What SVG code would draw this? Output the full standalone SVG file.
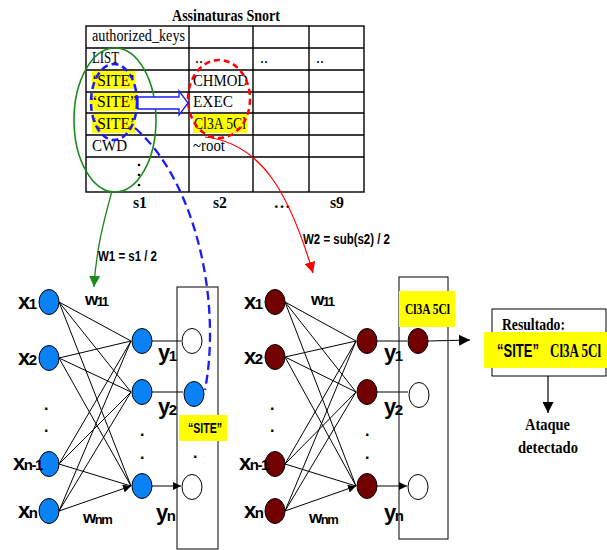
<svg xmlns="http://www.w3.org/2000/svg" width="607" height="550" viewBox="0 0 607 550">
<style>
.tl{stroke:#000;stroke-width:1.4;fill:none}
.ser{font-family:"Liberation Serif",serif;font-size:16px;fill:#000}
.serb{font-family:"Liberation Serif",serif;font-weight:bold;fill:#000}
.sb{font-family:"Liberation Sans",Arial,sans-serif;font-weight:bold;fill:#000}
.lab{font-family:"Liberation Sans",Arial,sans-serif;font-weight:bold;font-size:22px;fill:#000;letter-spacing:-1.5px}
.wl{font-family:"Liberation Sans",Arial,sans-serif;font-weight:bold;font-size:17px;fill:#000;letter-spacing:-1.5px}
.hl{fill:#ffff00}
.bn{fill:#0a82f5;stroke:#000;stroke-width:1}
.rn{fill:#730000;stroke:#000;stroke-width:1}
.wn{fill:#fff;stroke:#000;stroke-width:1}
.cn{stroke:#000;stroke-width:1;fill:none;marker-end:url(#ah)}
.dot{font-family:"Liberation Sans",Arial,sans-serif;font-weight:bold;font-size:16px;fill:#000}
</style>
<defs>
<marker id="ah" viewBox="0 0 8 8" refX="8" refY="4" markerWidth="8" markerHeight="8" markerUnits="userSpaceOnUse" orient="auto"><path d="M0,0 L8,4 L0,8 z" fill="#000"/></marker>
<marker id="ahb" viewBox="0 0 10 10" refX="10" refY="5" markerWidth="11" markerHeight="11" markerUnits="userSpaceOnUse" orient="auto"><path d="M0,0 L10,5 L0,10 z" fill="#000"/></marker>
<marker id="ahg" viewBox="0 0 10 10" refX="10" refY="5" markerWidth="11" markerHeight="11" markerUnits="userSpaceOnUse" orient="auto"><path d="M0,0 L10,5 L0,10 z" fill="#1a8a1a"/></marker>
<marker id="ahr" viewBox="0 0 10 10" refX="10" refY="5" markerWidth="11" markerHeight="11" markerUnits="userSpaceOnUse" orient="auto"><path d="M0,0 L10,5 L0,10 z" fill="#ff0000"/></marker>
</defs>
<rect width="607" height="550" fill="#fff"/>

<g id="table">
<text class="serb" x="172" y="21" font-size="16" textLength="108" lengthAdjust="spacingAndGlyphs">Assinaturas Snort</text>
<rect class="hl" x="92" y="71" width="43" height="18"/>
<rect class="hl" x="90" y="93" width="47" height="18"/>
<rect class="hl" x="92" y="114" width="43" height="19"/>
<rect class="hl" x="193" y="114" width="54" height="19"/>
<rect class="tl" x="86" y="26" width="278" height="166"/>
<path class="tl" d="M189,26V192M253,26V192M309,26V192M86,48H364M86,70H364M86,92H364M86,113H364M86,135H364M86,157H364"/>
<text class="ser" x="92" y="41" textLength="93" lengthAdjust="spacingAndGlyphs">authorized_keys</text>
<text class="ser" x="92" y="63" textLength="27" lengthAdjust="spacingAndGlyphs">LIST</text>
<text class="ser" x="195" y="63">..</text>
<text class="ser" x="260" y="63">..</text>
<text class="ser" x="316" y="63">..</text>
<text class="ser" x="92" y="86" textLength="43" lengthAdjust="spacingAndGlyphs">‘SITE’</text>
<text class="ser" x="90" y="107" textLength="47" lengthAdjust="spacingAndGlyphs">“SITE”</text>
<text class="ser" x="92" y="129" textLength="43" lengthAdjust="spacingAndGlyphs">‘SITE’</text>
<text class="ser" x="193" y="86" textLength="55" lengthAdjust="spacingAndGlyphs">CHMOD</text>
<text class="ser" x="193" y="107" textLength="40" lengthAdjust="spacingAndGlyphs">EXEC</text>
<text class="ser" x="194" y="129" textLength="52" lengthAdjust="spacingAndGlyphs">Cl3A 5Cl</text>
<text class="ser" x="92" y="151" textLength="35" lengthAdjust="spacingAndGlyphs">CWD</text>
<text class="ser" x="193" y="151" textLength="32" lengthAdjust="spacingAndGlyphs">~root</text>
<circle cx="139" cy="165" r="1.3"/><circle cx="139" cy="175" r="1.3"/><circle cx="139" cy="185" r="1.3"/>
<text class="serb" font-size="17" x="133" y="208" textLength="14" lengthAdjust="spacingAndGlyphs">s1</text>
<text class="serb" font-size="17" x="213" y="208" textLength="14" lengthAdjust="spacingAndGlyphs">s2</text>
<text class="serb" font-size="17" x="282" y="208" text-anchor="middle">…</text>
<text class="serb" font-size="17" x="330" y="208" textLength="14" lengthAdjust="spacingAndGlyphs">s9</text>
</g>

<g id="ellipses">
<ellipse cx="115" cy="120" rx="41" ry="72" fill="none" stroke="#1a8a1a" stroke-width="1.6"/>
<ellipse cx="114" cy="102" rx="23" ry="38" fill="none" stroke="#1a1aff" stroke-width="2.5" stroke-dasharray="7,4"/>
<ellipse cx="219" cy="99" rx="31" ry="39" fill="none" stroke="#ff0000" stroke-width="2.5" stroke-dasharray="6,4"/>
<polygon points="138,97 179,97 179,91 188,103 179,115 179,109 138,109" fill="#fff" stroke="#1a1aff" stroke-width="1.3"/>
</g>

<g id="connectors">
<path d="M112,191 C104,220 96,250 94,287" fill="none" stroke="#1a8a1a" stroke-width="1.3" marker-end="url(#ahg)"/>
<path d="M135,128 C195,180 222,300 205,390" fill="none" stroke="#1a1aff" stroke-width="2.3" stroke-dasharray="9,5"/>
<path d="M205,137 C262,143 290,195 313,273" fill="none" stroke="#ff0000" stroke-width="1.2" marker-end="url(#ahr)"/>
<text class="sb" font-size="14" x="98" y="261" textLength="59" lengthAdjust="spacingAndGlyphs">W1 = s1 / 2</text>
<text class="sb" font-size="14" x="303" y="244" textLength="87" lengthAdjust="spacingAndGlyphs">W2 = sub(s2) / 2</text>

<path class="cn" d="M59,302L131,341M59,302L131,392M59,302L131,486M59,358L131,341M59,358L131,392M59,358L131,486M59,464L131,341M59,464L131,392M59,464L131,486M59,511L131,341M59,511L131,392M59,511L131,486"/>
<path class="cn" d="M152,341H181M152,392H183M152,486H181"/>
<path class="cn" d="M285,302L356,341M285,302L356,392M285,302L356,486M285,357L356,341M285,357L356,392M285,357L356,486M285,464L356,341M285,464L356,392M285,464L356,486M285,511L356,341M285,511L356,392M285,511L356,486"/>
<path class="cn" d="M377,341H407M377,392H408M377,486H407"/>
<path d="M428,341L470,340" stroke="#000" stroke-width="1.2" fill="none" marker-end="url(#ahb)"/>
<path d="M548,376V413" stroke="#000" stroke-width="1.2" fill="none" marker-end="url(#ahb)"/>
</g>

<g id="left-net">
<rect x="177" y="287" width="41" height="262" fill="none" stroke="#000" stroke-width="1"/>
<ellipse class="bn" cx="49" cy="302" rx="10" ry="12.5"/>
<ellipse class="bn" cx="49" cy="358" rx="10" ry="12.5"/>
<ellipse class="bn" cx="49" cy="464" rx="10" ry="12.5"/>
<ellipse class="bn" cx="49" cy="511" rx="10" ry="12.5"/>
<ellipse class="bn" cx="142" cy="341" rx="10" ry="12.5"/>
<ellipse class="bn" cx="142" cy="392" rx="10" ry="12.5"/>
<ellipse class="bn" cx="142" cy="486" rx="10" ry="12.5"/>
<ellipse class="wn" cx="192" cy="341" rx="10" ry="12.5"/>
<ellipse class="bn" cx="194" cy="394" rx="10" ry="12.5"/>
<ellipse class="wn" cx="192" cy="487" rx="10" ry="12.5"/>
<text class="lab" x="18" y="309">x<tspan font-size="15">1</tspan></text>
<text class="lab" x="18" y="365">x<tspan font-size="15">2</tspan></text>
<text class="lab" x="13" y="470">x<tspan font-size="15">n-1</tspan></text>
<text class="lab" x="18" y="518">x<tspan font-size="15">n</tspan></text>
<text class="dot" x="44" y="410">.</text><text class="dot" x="44" y="432">.</text>
<text class="dot" x="140" y="436">.</text><text class="dot" x="140" y="459">.</text>
<text class="dot" x="193" y="458">.</text>
<text class="wl" x="85" y="305">w<tspan font-size="13" dy="1">11</tspan></text>
<text class="wl" x="83" y="523">w<tspan font-size="13" dy="1">nm</tspan></text>
<text class="lab" x="158" y="360">y<tspan font-size="15" dy="1">1</tspan></text>
<text class="lab" x="158" y="414">y<tspan font-size="15" dy="1">2</tspan></text>
<text class="lab" x="156" y="520">y<tspan font-size="15" dy="1">n</tspan></text>
<rect class="hl" x="179" y="415" width="48" height="26"/>
<text class="sb" font-size="15" x="188" y="433" textLength="34" lengthAdjust="spacingAndGlyphs">“SITE”</text>
</g>

<g id="right-net">
<rect x="399" y="277" width="49" height="262" fill="none" stroke="#000" stroke-width="1"/>
<rect class="hl" x="399" y="291" width="56" height="36"/>
<text class="serb" font-size="14" x="405" y="314" textLength="45" lengthAdjust="spacingAndGlyphs">Cl3A 5Cl</text>
<ellipse class="rn" cx="275" cy="302" rx="10" ry="12.5"/>
<ellipse class="rn" cx="275" cy="357" rx="10" ry="12.5"/>
<ellipse class="rn" cx="275" cy="464" rx="10" ry="12.5"/>
<ellipse class="rn" cx="275" cy="511" rx="10" ry="12.5"/>
<ellipse class="rn" cx="367" cy="341" rx="10" ry="12.5"/>
<ellipse class="rn" cx="367" cy="392" rx="10" ry="12.5"/>
<ellipse class="rn" cx="367" cy="486" rx="10" ry="12.5"/>
<ellipse class="rn" cx="418" cy="341" rx="10" ry="12.5"/>
<ellipse class="wn" cx="419" cy="395" rx="10" ry="12.5"/>
<ellipse class="wn" cx="418" cy="487" rx="10" ry="12.5"/>
<text class="lab" x="244" y="309">x<tspan font-size="15">1</tspan></text>
<text class="lab" x="244" y="364">x<tspan font-size="15">2</tspan></text>
<text class="lab" x="239" y="470">x<tspan font-size="15">n-1</tspan></text>
<text class="lab" x="244" y="518">x<tspan font-size="15">n</tspan></text>
<text class="dot" x="270" y="410">.</text><text class="dot" x="270" y="432">.</text>
<text class="dot" x="365" y="436">.</text><text class="dot" x="365" y="459">.</text>
<text class="wl" x="311" y="305">w<tspan font-size="13" dy="1">11</tspan></text>
<text class="wl" x="309" y="523">w<tspan font-size="13" dy="1">nm</tspan></text>
<text class="lab" x="384" y="360">y<tspan font-size="15" dy="1">1</tspan></text>
<text class="lab" x="384" y="414">y<tspan font-size="15" dy="1">2</tspan></text>
<text class="lab" x="384" y="520">y<tspan font-size="15" dy="1">n</tspan></text>
</g>

<g id="result">
<rect x="492" y="309" width="114" height="67" fill="#fff" stroke="#000" stroke-width="1"/>
<text class="serb" font-size="17" x="502" y="330" textLength="63" lengthAdjust="spacingAndGlyphs">Resultado:</text>
<rect class="hl" x="484" y="332" width="123" height="36"/>
<text class="sb" font-size="18" x="497" y="357" textLength="42" lengthAdjust="spacingAndGlyphs">“SITE”</text>
<text class="serb" font-size="18" x="550" y="357" textLength="51" lengthAdjust="spacingAndGlyphs">Cl3A 5Cl</text>
</g>

<g id="ataque">
<text class="serb" font-size="17" x="525" y="430" textLength="45" lengthAdjust="spacingAndGlyphs">Ataque</text>
<text class="serb" font-size="17" x="518" y="453" textLength="60" lengthAdjust="spacingAndGlyphs">detectado</text>
</g>
</svg>
